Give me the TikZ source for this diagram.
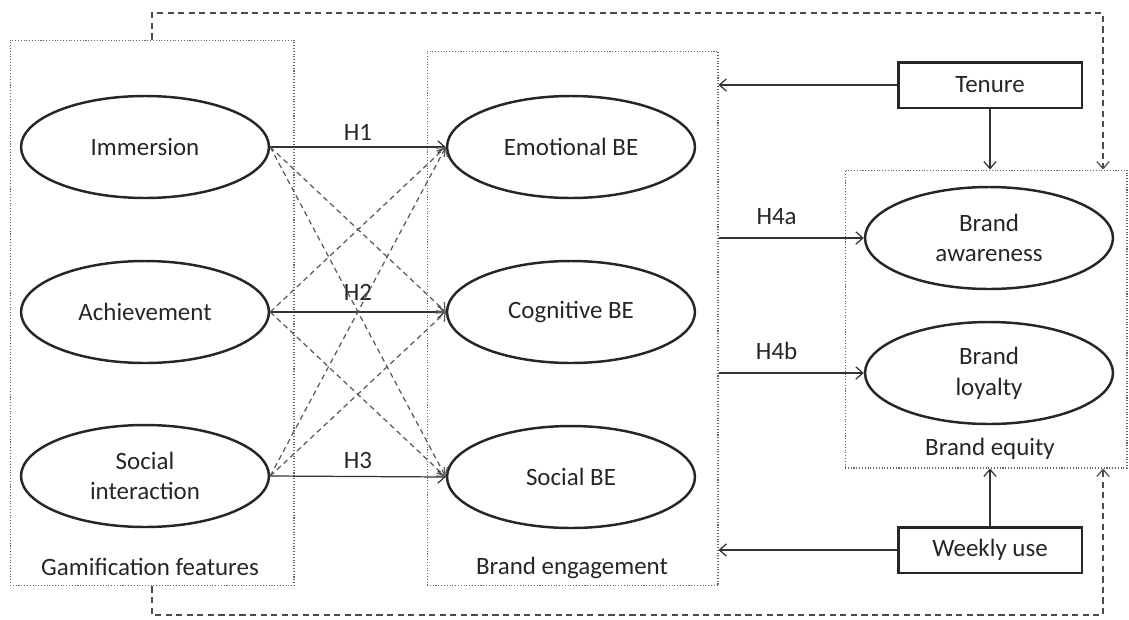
\documentclass[tikz,border=0pt]{standalone}
\usepackage{fontspec}
\setmainfont{Carlito}
\usetikzlibrary{shapes,arrows,positioning,calc,arrows.meta}

\begin{document}
\begin{tikzpicture}[x=0.02cm, y=-0.02cm,
    font=\fontsize{14.2}{17.5}\selectfont, text=black!85,
    construct/.style={draw=black!85, ellipse, line width=1.4pt, minimum width=4.96cm, minimum height=2.04cm, align=center, inner sep=0pt},
    ctrlbox/.style={draw=black!85, line width=1.7pt, minimum width=3.68cm, minimum height=0.92cm},
    group/.style={draw=black!60, densely dotted, line width=0.6pt},
    link/.style={draw=black!80, line width=0.7pt, -{Straight Barb[length=4pt,width=7pt]}},
    cross/.style={link, dash pattern=on 3pt off 2.2pt, draw=black!65},
    outer/.style={link, dash pattern=on 3.5pt off 2.5pt, draw=black!70}]
    \useasboundingbox (0,0) rectangle (1129,619);

    % Groups
    \node[group, minimum width=5.68cm, minimum height=10.92cm] (gam) at (152,313) {};
    \node[group, minimum width=5.82cm, minimum height=10.7cm] (be) at (572.5,318.5) {};
    \node[group, minimum width=5.64cm, minimum height=5.96cm] (eq) at (986,319) {};
    \node (gamlbl) at (150,567) {Gamification features};
    \node (belbl) at (572,568) {Brand engagement};
    \node (eqlbl) at (990,449) {Brand equity};

    % Constructs
    \node[construct] (imm) at (145,147) {Immersion};
    \node[construct] (ach) at (145,312) {Achievement};
    \node[construct] (soc) at (145,476) {Social\\interaction};
    \node[construct] (emo) at (571,147) {Emotional BE};
    \node[construct] (cog) at (571,312) {Cognitive BE};
    \node[construct] (sbe) at (571,477) {Social BE};
    \node[construct] (awa) at (989,238) {Brand\\awareness};
    \node[construct] (loy) at (989,373) {Brand\\loyalty};

    % Controls
    \node[ctrlbox] (ten) at (990,85) {Tenure};
    \node[ctrlbox] (wk) at (990,550) {Weekly use};

    % Hypotheses
    \draw[link] (imm.east) -- node[above] {H1} (emo.west);
    \draw[link] (ach.east) -- node[above=3pt] {H2} (cog.west);
    \draw[link] (soc.east) -- node[above=1pt] {H3} (sbe.west);
    \foreach \a/\b in {imm/cog, imm/sbe, ach/emo, ach/sbe, soc/emo, soc/cog}
        \draw[cross] (\a.east) -- (\b.west);
    \draw[link] (awa.west -| be.east) -- node[pos=.4, above=4pt] {H4a} (awa.west);
    \draw[link] (loy.west -| be.east) -- node[pos=.4, above=4pt] {H4b} (loy.west);

    % Control effects
    \draw[link] (ten.west) -- (ten.west -| be.east);
    \draw[link] (ten.south) -- (ten.south |- eq.north);
    \draw[link] (wk.west) -- (wk.west -| be.east);
    \draw[link] (wk.north) -- (wk.north |- eq.south);
    \coordinate (topc) at (1103,13);
    \coordinate (botc) at (1103,615);
    \draw[outer] (gam.north) |- (topc) -- (topc |- eq.north);
    \draw[outer] (gam.south) |- (botc) -- (botc |- eq.south);
\end{tikzpicture}
\end{document}
